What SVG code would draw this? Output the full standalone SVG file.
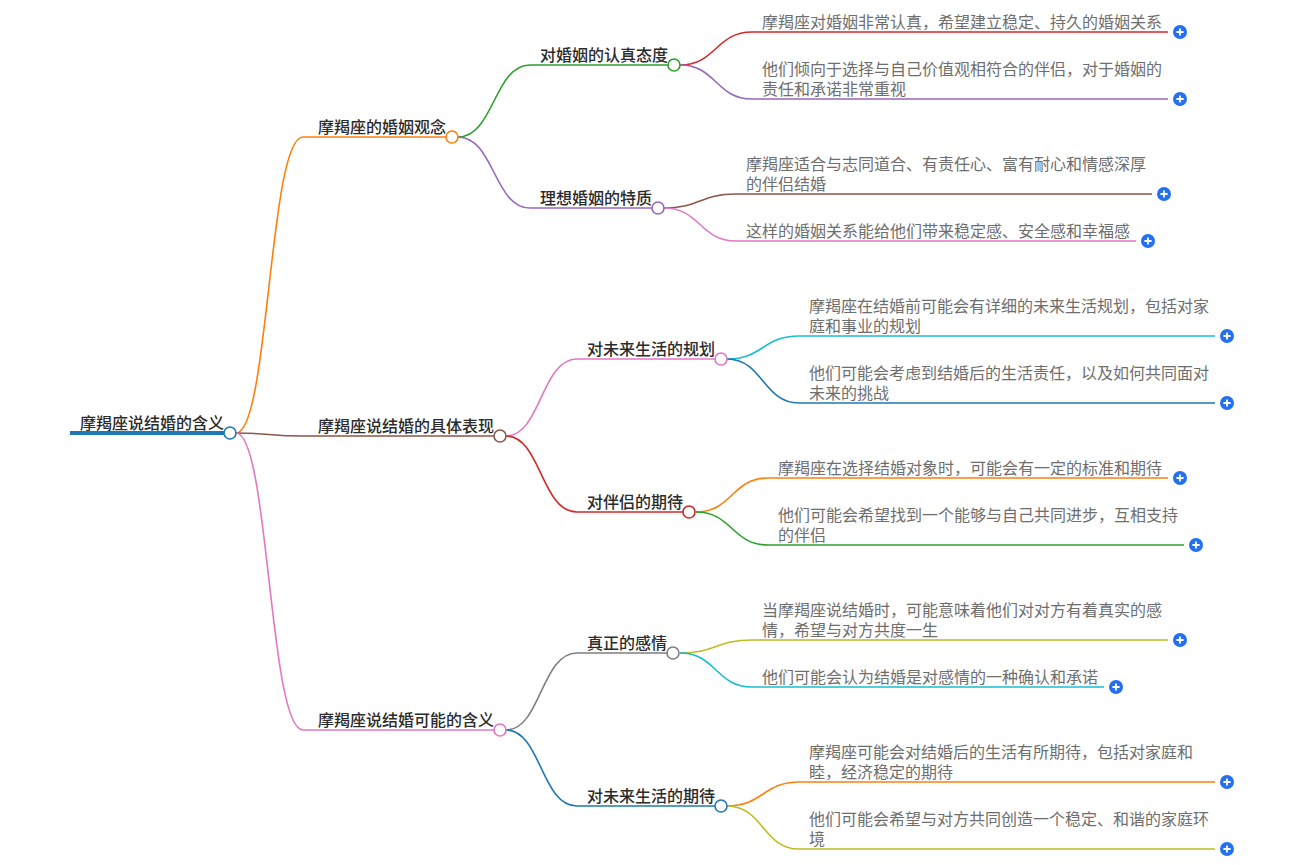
<svg xmlns="http://www.w3.org/2000/svg" width="1293" height="865" viewBox="0 0 1293 865">
<style>
text{font-family:"Noto Sans CJK SC","Noto Sans",sans-serif;font-size:16px}
.lb{fill:#2b2b2b;font-weight:500}
.lf{fill:#6e6e6e}
.c path{fill:none;stroke-width:1.6}
.dot{fill:#fff;stroke-width:1.6}
</style>
<defs>
<g id="plus"><circle r="7" fill="#2570ee"/><path d="M-3.6,0H3.6M0,-3.6V3.6" stroke="#fff" stroke-width="1.8" fill="none"/></g>
</defs>
<rect width="1293" height="865" fill="#fff"/>
<g id="connectors" class="c">
<path d="M236,433 C269,433 269,137 303,137 H446" stroke="#ff7f0e"/>
<path d="M236,433 C269,433 269,436 303,436 H494" stroke="#8c564b"/>
<path d="M236,433 C269,433 269,730 303,730 H494" stroke="#e377c2"/>
<path d="M458,137 C494,137 494,65 530,65 H668" stroke="#2ca02c"/>
<path d="M458,137 C494,137 494,208 530,208 H652" stroke="#9467bd"/>
<path d="M506,436 C541,436 541,359 577,359 H715" stroke="#e377c2"/>
<path d="M506,436 C541,436 541,512 577,512 H683" stroke="#d62728"/>
<path d="M506,730 C541,730 541,653 577,653 H667" stroke="#7f7f7f"/>
<path d="M506,730 C541,730 541,806 577,806 H715" stroke="#1f77b4"/>
<path d="M680,65 C716,65 716,32 752,32 H1168" stroke="#d62728"/>
<path d="M680,65 C716,65 716,99 752,99 H1168" stroke="#9467bd"/>
<path d="M664,208 C700,208 700,194 736,194 H1152" stroke="#8c564b"/>
<path d="M664,208 C700,208 700,241 736,241 H1136" stroke="#e377c2"/>
<path d="M727,359 C763,359 763,336 799,336 H1215" stroke="#17becf"/>
<path d="M727,359 C763,359 763,403 799,403 H1215" stroke="#1f77b4"/>
<path d="M696,512 C732,512 732,478 768,478 H1168" stroke="#ff7f0e"/>
<path d="M696,512 C732,512 732,545 768,545 H1184" stroke="#2ca02c"/>
<path d="M680,653 C716,653 716,640 752,640 H1168" stroke="#bcbd22"/>
<path d="M680,653 C716,653 716,687 752,687 H1104" stroke="#17becf"/>
<path d="M727,806 C763,806 763,782 799,782 H1215" stroke="#ff7f0e"/>
<path d="M727,806 C763,806 763,849 799,849 H1215" stroke="#bcbd22"/>
</g>
<g id="root">
<path d="M70,433 H224" stroke="#1f77b4" stroke-width="4"/>
<text class="lb" x="80" y="429">摩羯座说结婚的含义</text>
<circle class="dot" cx="230" cy="433" r="6" stroke="#1f77b4"/>
</g>
<g id="n1"><text class="lb" x="318" y="133">摩羯座的婚姻观念</text><circle class="dot" cx="452" cy="137" r="6" stroke="#ff7f0e"/></g>
<g id="n2"><text class="lb" x="318" y="432">摩羯座说结婚的具体表现</text><circle class="dot" cx="500" cy="436" r="6" stroke="#8c564b"/></g>
<g id="n3"><text class="lb" x="318" y="726">摩羯座说结婚可能的含义</text><circle class="dot" cx="500" cy="730" r="6" stroke="#e377c2"/></g>
<g id="n11"><text class="lb" x="540" y="61">对婚姻的认真态度</text><circle class="dot" cx="674" cy="65" r="6" stroke="#2ca02c"/></g>
<g id="n12"><text class="lb" x="540" y="204">理想婚姻的特质</text><circle class="dot" cx="658" cy="208" r="6" stroke="#9467bd"/></g>
<g id="n21"><text class="lb" x="587" y="355">对未来生活的规划</text><circle class="dot" cx="721" cy="359" r="6" stroke="#e377c2"/></g>
<g id="n22"><text class="lb" x="587" y="508">对伴侣的期待</text><circle class="dot" cx="689" cy="512" r="6" stroke="#d62728"/></g>
<g id="n31"><text class="lb" x="587" y="649">真正的感情</text><circle class="dot" cx="673" cy="653" r="6" stroke="#7f7f7f"/></g>
<g id="n32"><text class="lb" x="587" y="802">对未来生活的期待</text><circle class="dot" cx="721" cy="806" r="6" stroke="#1f77b4"/></g>
<g id="l111"><text class="lf" x="762" y="28">摩羯座对婚姻非常认真，希望建立稳定、持久的婚姻关系</text><use href="#plus" x="1180" y="32"/></g>
<g id="l112"><text class="lf" x="762" y="75">他们倾向于选择与自己价值观相符合的伴侣，对于婚姻的</text><text class="lf" x="762" y="95">责任和承诺非常重视</text><use href="#plus" x="1180" y="99"/></g>
<g id="l121"><text class="lf" x="746" y="170">摩羯座适合与志同道合、有责任心、富有耐心和情感深厚</text><text class="lf" x="746" y="190">的伴侣结婚</text><use href="#plus" x="1164" y="194"/></g>
<g id="l122"><text class="lf" x="746" y="237">这样的婚姻关系能给他们带来稳定感、安全感和幸福感</text><use href="#plus" x="1148" y="241"/></g>
<g id="l211"><text class="lf" x="809" y="312">摩羯座在结婚前可能会有详细的未来生活规划，包括对家</text><text class="lf" x="809" y="332">庭和事业的规划</text><use href="#plus" x="1227" y="336"/></g>
<g id="l212"><text class="lf" x="809" y="379">他们可能会考虑到结婚后的生活责任，以及如何共同面对</text><text class="lf" x="809" y="399">未来的挑战</text><use href="#plus" x="1227" y="403"/></g>
<g id="l221"><text class="lf" x="778" y="474">摩羯座在选择结婚对象时，可能会有一定的标准和期待</text><use href="#plus" x="1180" y="478"/></g>
<g id="l222"><text class="lf" x="778" y="521">他们可能会希望找到一个能够与自己共同进步，互相支持</text><text class="lf" x="778" y="541">的伴侣</text><use href="#plus" x="1196" y="545"/></g>
<g id="l311"><text class="lf" x="762" y="616">当摩羯座说结婚时，可能意味着他们对对方有着真实的感</text><text class="lf" x="762" y="636">情，希望与对方共度一生</text><use href="#plus" x="1180" y="640"/></g>
<g id="l312"><text class="lf" x="762" y="683">他们可能会认为结婚是对感情的一种确认和承诺</text><use href="#plus" x="1116" y="687"/></g>
<g id="l321"><text class="lf" x="809" y="758">摩羯座可能会对结婚后的生活有所期待，包括对家庭和</text><text class="lf" x="809" y="778">睦，经济稳定的期待</text><use href="#plus" x="1227" y="782"/></g>
<g id="l322"><text class="lf" x="809" y="825">他们可能会希望与对方共同创造一个稳定、和谐的家庭环</text><text class="lf" x="809" y="845">境</text><use href="#plus" x="1227" y="849"/></g>
</svg>
